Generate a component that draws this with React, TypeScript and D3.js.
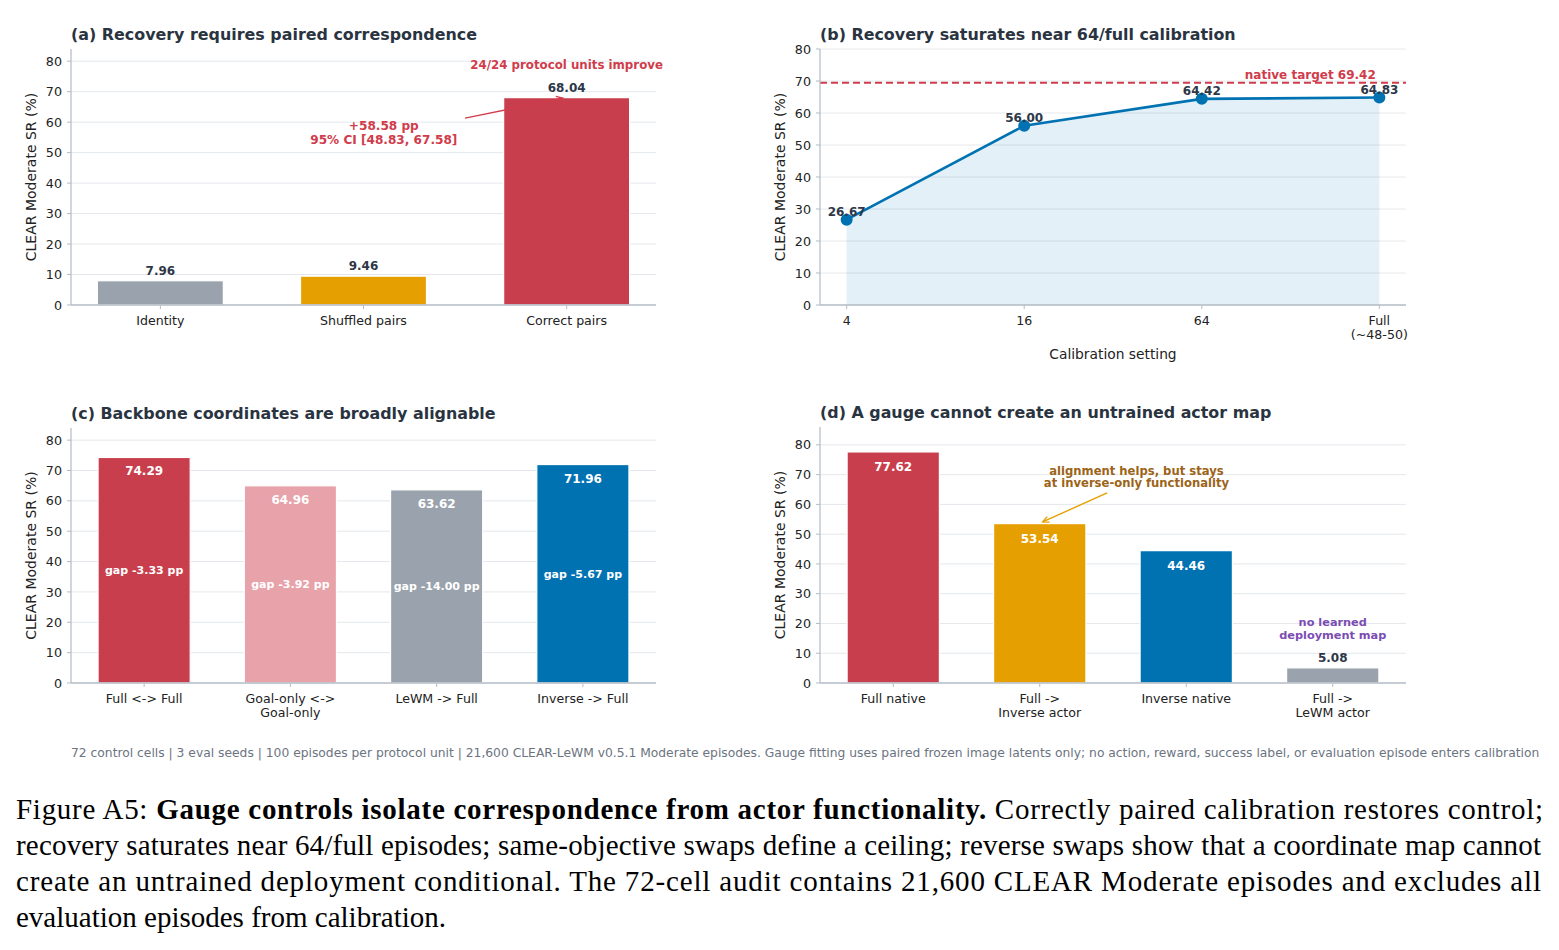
import React from 'react';
import * as d3 from 'd3';

// ---------- data ----------
const panelACategories = ['Identity', 'Shuffled pairs', 'Correct pairs'];
const panelAValues = [7.96, 9.46, 68.04];
const panelADelta = '+58.58 pp';
const panelACI = '95% CI [48.83, 67.58]';
const panelANote = '24/24 protocol units improve';

const panelBSettings = ['4', '16', '64', 'Full'];
const panelBSubLabels = ['', '', '', '(~48-50)'];
const panelBValues = [26.67, 56.0, 64.42, 64.83];
const panelBNativeTarget = 69.42;

const panelCCategories = [['Full <-> Full'], ['Goal-only <->', 'Goal-only'], ['LeWM -> Full'], ['Inverse -> Full']];
const panelCValues = [74.29, 64.96, 63.62, 71.96];
const panelCGaps = [-3.33, -3.92, -14.0, -5.67];

const panelDCategories = [['Full native'], ['Full ->', 'Inverse actor'], ['Inverse native'], ['Full ->', 'LeWM actor']];
const panelDValues = [77.62, 53.54, 44.46, 5.08];

const yTicks = [0, 10, 20, 30, 40, 50, 60, 70, 80];

// ---------- style ----------
const RED = '#c83e4d';
const GOLD = '#e69f00';
const GRAY = '#9aa3ad';
const BLUE = '#0072b2';
const PINK = '#e8a2aa';
const ANN_RED = '#d03c4c';
const ANN_BROWN = '#9c6418';
const ANN_PURPLE = '#7b4db3';
const TITLE = '#2a3441';
const DARK = '#2d3748';
const GRID = '#e4e8ec';
const SPINE = '#b3bbc4';
const FONT = 'DejaVu Sans, sans-serif';

const panelAColors = [GRAY, GOLD, RED];
const panelCColors = [RED, PINK, GRAY, BLUE];
const panelDColors = [RED, GOLD, BLUE, GRAY];

type Lin = d3.ScaleLinear<number, number>;

function Frame({ x, y, title, categories, ticksAt }: { x: Lin; y: Lin; title: string; categories?: string[][]; ticksAt: number[] }) {
  const [x0, x1] = x.range();
  const [yb, yt] = y.range();
  return (
    <g>
      {yTicks.map((t) => (
        <g key={t}>
          {t > 0 && <line x1={x0} x2={x1} y1={y(t)} y2={y(t)} stroke={GRID} strokeWidth={1} />}
          <line x1={x0 - 4} x2={x0} y1={y(t)} y2={y(t)} stroke={SPINE} strokeWidth={1} />
          <text x={x0 - 9} y={y(t)} dy="0.36em" textAnchor="end" fontSize={12.7} fill="#222" fontFamily={FONT}>{t}</text>
        </g>
      ))}
      <text x={x0} y={yt - 9} fontSize={15.9} fontWeight="bold" fill={TITLE} fontFamily={FONT}>{title}</text>
      <text transform={`translate(${x0 - 40},${(yb + yt) / 2}) rotate(-90)`} textAnchor="middle" dy="0.35em" fontSize={14} fill="#222" fontFamily={FONT}>CLEAR Moderate SR (%)</text>
      {ticksAt.map((c, i) => (
        <g key={i}>
          <line x1={x(c)} x2={x(c)} y1={yb} y2={yb + 4} stroke={SPINE} strokeWidth={1} />
          {categories && categories[i].map((ln, j) => (
            <text key={j} x={x(c)} y={yb + 20 + j * 14} textAnchor="middle" fontSize={12.6} fill="#222" fontFamily={FONT}>{ln}</text>
          ))}
        </g>
      ))}
    </g>
  );
}

function Spines({ x, y }: { x: Lin; y: Lin }) {
  const [x0, x1] = x.range();
  const [yb, yt] = y.range();
  return (
    <g>
      <line x1={x0} x2={x0} y1={yt} y2={yb} stroke={SPINE} strokeWidth={1.2} />
      <line x1={x0} x2={x1} y1={yb} y2={yb} stroke={SPINE} strokeWidth={1.6} />
    </g>
  );
}

function Arrow({ x1, y1, x2, y2, color }: { x1: number; y1: number; x2: number; y2: number; color: string }) {
  const a = Math.atan2(y2 - y1, x2 - x1);
  const L = 7;
  const s = 0.45;
  const p1 = [x2 - L * Math.cos(a - s), y2 - L * Math.sin(a - s)];
  const p2 = [x2 - L * Math.cos(a + s), y2 - L * Math.sin(a + s)];
  return (
    <g stroke={color} strokeWidth={1.4} fill="none">
      <line x1={x1} y1={y1} x2={x2} y2={y2} />
      <path d={`M${p1[0]},${p1[1]} L${x2},${y2} L${p2[0]},${p2[1]}`} />
    </g>
  );
}

function PanelA() {
  const x = d3.scaleLinear().domain([-0.44, 2.44]).range([71, 656]);
  const y = d3.scaleLinear().domain([0, 84]).range([305, 49]);
  const bw = 0.62;
  const idx = panelACategories.map((_, i) => i);
  return (
    <g>
      <Frame x={x} y={y} title="(a) Recovery requires paired correspondence" categories={panelACategories.map((c) => [c])} ticksAt={idx} />
      {panelAValues.map((v, i) => (
        <g key={i}>
          <rect x={x(i - bw / 2)} width={x(i + bw / 2) - x(i - bw / 2)} y={y(v)} height={y(0) - y(v)} fill={panelAColors[i]} stroke="#fff" strokeWidth={1.2} />
          <text x={x(i)} y={y(v) - 6} textAnchor="middle" fontSize={12} fontWeight="bold" fill={DARK} fontFamily={FONT}>{v.toFixed(2)}</text>
        </g>
      ))}
      <Spines x={x} y={y} />
      <text x={x(2)} y={y(78.7)} dy="0.35em" textAnchor="middle" fontSize={11.8} fontWeight="bold" fill={ANN_RED} fontFamily={FONT}>{panelANote}</text>
      <text x={x(1.1)} y={y(58.7)} dy="0.35em" textAnchor="middle" fontSize={12.1} fontWeight="bold" fill={ANN_RED} fontFamily={FONT}>{panelADelta}</text>
      <text x={x(1.1)} y={y(54.1)} dy="0.35em" textAnchor="middle" fontSize={12.1} fontWeight="bold" fill={ANN_RED} fontFamily={FONT}>{panelACI}</text>
      <Arrow x1={x(1.5)} y1={y(61.3)} x2={x(1.98)} y2={y(67.9)} color={ANN_RED} />
    </g>
  );
}

function PanelB() {
  const x = d3.scaleLinear().domain([-0.15, 3.15]).range([820, 1406]);
  const y = d3.scaleLinear().domain([0, 80]).range([305, 49]);
  const idx = panelBSettings.map((_, i) => i);
  const area = d3.area<number>().x((_, i) => x(i)).y0(y(0)).y1((d) => y(d));
  const line = d3.line<number>().x((_, i) => x(i)).y((d) => y(d));
  return (
    <g>
      <Frame x={x} y={y} title="(b) Recovery saturates near 64/full calibration" categories={panelBSettings.map((s, i) => (panelBSubLabels[i] ? [s, panelBSubLabels[i]] : [s]))} ticksAt={idx} />
      <path d={area(panelBValues) || ''} fill={BLUE} fillOpacity={0.11} />
      <line x1={x.range()[0]} x2={x.range()[1]} y1={y(panelBNativeTarget)} y2={y(panelBNativeTarget)} stroke={ANN_RED} strokeWidth={2} strokeDasharray="7,4" />
      <text x={x(2.98)} y={y(panelBNativeTarget) - 4} textAnchor="end" fontSize={12} fontWeight="bold" fill={ANN_RED} fontFamily={FONT}>native target {panelBNativeTarget.toFixed(2)}</text>
      <path d={line(panelBValues) || ''} fill="none" stroke={BLUE} strokeWidth={2.6} />
      {panelBValues.map((v, i) => (
        <g key={i}>
          <circle cx={x(i)} cy={y(v)} r={6} fill={BLUE} />
          <text x={x(i)} y={y(v) - 4} textAnchor="middle" fontSize={12} fontWeight="bold" fill={DARK} fontFamily={FONT}>{v.toFixed(2)}</text>
        </g>
      ))}
      <Spines x={x} y={y} />
      <text x={(x.range()[0] + x.range()[1]) / 2} y={359} textAnchor="middle" fontSize={13.8} fill="#222" fontFamily={FONT}>Calibration setting</text>
    </g>
  );
}

function PanelC() {
  const x = d3.scaleLinear().domain([-0.5, 3.5]).range([71, 656]);
  const y = d3.scaleLinear().domain([0, 84]).range([683, 428]);
  const bw = 0.63;
  const idx = panelCValues.map((_, i) => i);
  return (
    <g>
      <Frame x={x} y={y} title="(c) Backbone coordinates are broadly alignable" categories={panelCCategories} ticksAt={idx} />
      {panelCValues.map((v, i) => (
        <g key={i}>
          <rect x={x(i - bw / 2)} width={x(i + bw / 2) - x(i - bw / 2)} y={y(v)} height={y(0) - y(v)} fill={panelCColors[i]} stroke="#fff" strokeWidth={1.2} />
          <text x={x(i)} y={y(v) + 18} textAnchor="middle" fontSize={12} fontWeight="bold" fill="#fff" fontFamily={FONT}>{v.toFixed(2)}</text>
          <text x={x(i)} y={y(v / 2)} dy="0.35em" textAnchor="middle" fontSize={11} fontWeight="bold" fill="#fff" fontFamily={FONT}>gap {panelCGaps[i].toFixed(2)} pp</text>
        </g>
      ))}
      <Spines x={x} y={y} />
    </g>
  );
}

function PanelD() {
  const x = d3.scaleLinear().domain([-0.5, 3.5]).range([820, 1406]);
  const y = d3.scaleLinear().domain([0, 86]).range([683, 427]);
  const bw = 0.63;
  const idx = panelDValues.map((_, i) => i);
  return (
    <g>
      <Frame x={x} y={y} title="(d) A gauge cannot create an untrained actor map" categories={panelDCategories} ticksAt={idx} />
      {panelDValues.map((v, i) => {
        const inside = v > 20;
        return (
          <g key={i}>
            <rect x={x(i - bw / 2)} width={x(i + bw / 2) - x(i - bw / 2)} y={y(v)} height={y(0) - y(v)} fill={panelDColors[i]} stroke="#fff" strokeWidth={1.2} />
            <text x={x(i)} y={inside ? y(v) + 19 : y(v) - 6} textAnchor="middle" fontSize={12} fontWeight="bold" fill={inside ? '#fff' : DARK} fontFamily={FONT}>{v.toFixed(2)}</text>
          </g>
        );
      })}
      <Spines x={x} y={y} />
      <text x={x(1.66)} y={y(71.3)} dy="0.35em" textAnchor="middle" fontSize={11.6} fontWeight="bold" fill={ANN_BROWN} fontFamily={FONT}>alignment helps, but stays</text>
      <text x={x(1.66)} y={y(67.2)} dy="0.35em" textAnchor="middle" fontSize={11.6} fontWeight="bold" fill={ANN_BROWN} fontFamily={FONT}>at inverse-only functionality</text>
      <Arrow x1={x(1.46)} y1={y(63.9)} x2={x(1.02)} y2={y(54.1)} color={GOLD} />
      <text x={x(3)} y={y(20.6)} dy="0.35em" textAnchor="middle" fontSize={11.3} fontWeight="bold" fill={ANN_PURPLE} fontFamily={FONT}>no learned</text>
      <text x={x(3)} y={y(16.2)} dy="0.35em" textAnchor="middle" fontSize={11.3} fontWeight="bold" fill={ANN_PURPLE} fontFamily={FONT}>deployment map</text>
    </g>
  );
}

const footerText = '72 control cells | 3 eval seeds | 100 episodes per protocol unit | 21,600 CLEAR-LeWM v0.5.1 Moderate episodes. Gauge fitting uses paired frozen image latents only; no action, reward, success label, or evaluation episode enters calibration';

const SERIF = 'Liberation Serif, Times New Roman, serif';

export default function App() {
  return (
    <svg width={1559} height={950} style={{ position: 'absolute', left: 0, top: 0, background: '#fff' }} xmlns="http://www.w3.org/2000/svg">
      <rect width={1559} height={950} fill="#fff" />
      <PanelA />
      <PanelB />
      <PanelC />
      <PanelD />
      <text x={71} y={757} fontSize={12.3} fill="#6b7480" fontFamily={FONT}>{footerText}</text>
      <g fontFamily={SERIF} fontSize={29} fill="#000">
        <text x={16} y={819} textLength={1527} lengthAdjust="spacing">
          Figure A5: <tspan fontWeight="bold">Gauge controls isolate correspondence from actor functionality.</tspan> Correctly paired calibration restores control;
        </text>
        <text x={16} y={855} textLength={1525} lengthAdjust="spacing">recovery saturates near 64/full episodes; same-objective swaps define a ceiling; reverse swaps show that a coordinate map cannot</text>
        <text x={16} y={891} textLength={1525} lengthAdjust="spacing">create an untrained deployment conditional.  The 72-cell audit contains 21,600 CLEAR Moderate episodes and excludes all</text>
        <text x={16} y={927}>evaluation episodes from calibration.</text>
      </g>
    </svg>
  );
}
